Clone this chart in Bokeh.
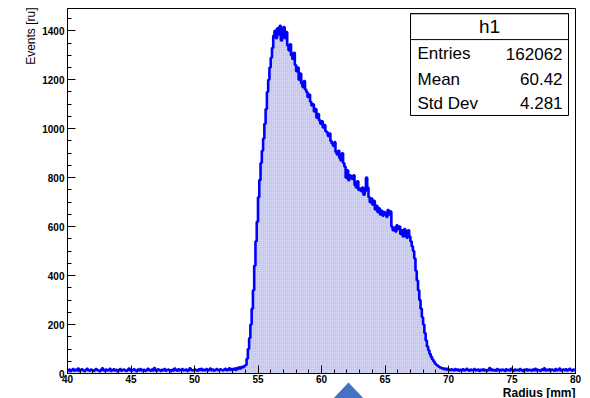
import numpy as np
from bokeh.plotting import figure
from bokeh.models import Range1d, Label, BoxAnnotation, PolyAnnotation, FixedTicker
from bokeh.embed import file_html
from bokeh.resources import INLINE

# ---------------------------------------------------------------- data
x_min, x_max = 40.0, 80.0
bin_width = 0.1

# counts per 0.1 mm bin, 40.0 .. 53.9
left_tail = [
    12, 16, 9, 14, 18, 11, 15, 13, 20, 10,
    14, 17, 12, 9, 15, 19, 13, 11, 16, 14,
    10, 13, 18, 15, 12, 9, 14, 21, 13, 11,
    16, 12, 14, 19, 10, 13, 17, 12, 15, 9,
    13, 18, 11, 14, 16, 12, 10, 15, 20, 13,
    11, 14, 17, 12, 9, 16, 13, 18, 12, 14,
    15, 10, 13, 19, 14, 11, 16, 12, 22, 13,
    12, 17, 14, 10, 15, 13, 18, 11, 14, 16,
    13, 9, 15, 12, 20, 14, 11, 17, 13, 15,
    18, 12, 14, 16, 10, 13, 21, 15, 12, 14,
    16, 13, 11, 17, 14, 19, 12, 15, 13, 18,
    12, 15, 20, 13, 16, 11, 14, 18, 15, 13,
    17, 14, 12, 16, 19, 13, 15, 21, 14, 18,
    16, 20, 15, 22, 19, 25, 21, 27, 26, 31,
]

# counts per 0.1 mm bin, 54.0 .. 69.4
core = [
    35, 60, 100, 145, 200, 265, 340, 440, 540, 620,
    720, 790, 860, 910, 960, 1020, 1080, 1150, 1200, 1250,
    1290, 1330, 1380, 1400, 1370, 1410, 1385, 1420, 1360, 1405,
    1415, 1370, 1395, 1340, 1320, 1345, 1300, 1285, 1310, 1260,
    1235, 1250, 1200, 1225, 1185, 1170, 1195, 1160, 1150, 1130,
    1140, 1110, 1095, 1100, 1070, 1080, 1045, 1060, 1035, 1020,
    1030, 1005, 1015, 990, 985, 970, 980, 950, 940, 930,
    945, 905, 895, 910, 880, 870, 900, 860, 845, 800,
    830, 790, 810, 800, 795, 810, 770, 760, 785, 750,
    755, 745, 760, 730, 745, 800, 760, 720, 700, 715,
    690, 705, 670, 685, 660, 675, 650, 665, 645, 660,
    655, 640, 668, 650, 662, 600, 585, 595, 580, 605,
    590, 600, 570, 585, 560, 590, 575, 555, 585, 560,
    540, 520, 500, 470, 420, 380, 340, 300, 265, 230,
    200, 165, 135, 110, 95, 80, 68, 58, 50, 42,
    36, 32, 28, 25, 22,
]

# counts per 0.1 mm bin, 69.5 .. 79.9
right_tail = [
    21, 18, 20, 16, 19,
    16, 13, 17, 15, 12, 18, 14, 16, 11, 15,
    13, 17, 12, 15, 19, 14, 11, 16, 13, 15,
    18, 12, 14, 16, 10, 15, 13, 17, 12, 14,
    11, 15, 22, 13, 16, 12, 14, 11, 18, 13,
    15, 12, 16, 14, 10, 17, 13, 15, 12, 19,
    14, 11, 16, 13, 15, 12, 18, 14, 10, 15,
    13, 17, 12, 15, 14, 11, 16, 13, 19, 12,
    15, 13, 10, 16, 14, 21, 12, 15, 13, 17,
    12, 16, 14, 11, 18, 13, 15, 20, 12, 14,
    16, 13, 17, 12, 15, 19, 14, 11, 16, 13,
]

x_ticks = [40, 45, 50, 55, 60, 65, 70, 75, 80]
y_ticks = [0, 200, 400, 600, 800, 1000, 1200, 1400]

stats_title = "h1"
stats_names = ["Entries", "Mean", "Std Dev"]
stats_values = ["162062", "60.42", "4.281"]

x_title = "Radius [mm]"
y_title = "Events [ru]"

# ---------------------------------------------------------------- geometry
counts = np.array(left_tail + core + right_tail, dtype=float)
edges = x_min + bin_width * np.arange(len(counts) + 1)
y_top = 1.05 * counts.max()

FONT = "Liberation Sans"
LINE_BLUE = "#0000ff"

# The drawing area covers the whole page; the axes are pinned at x = 40 and
# y = 0 so that their labels and the titles sit inside it.
W, H = 590, 398
pad_l, pad_r = 67, 15      # page pixels left of x = 40 and right of x = 80
pad_t, pad_b = 8, 25       # page pixels above y = y_top and below y = 0
mm_per_px = (x_max - x_min) / (W - pad_l - pad_r)
ev_per_px = y_top / (H - pad_t - pad_b)

p = figure(
    width=W, height=H,
    x_range=Range1d(x_min - pad_l * mm_per_px, x_max + pad_r * mm_per_px),
    y_range=Range1d(-pad_b * ev_per_px, y_top + pad_t * ev_per_px),
    output_backend="svg", toolbar_location=None,
    min_border_left=0, min_border_right=0,
    min_border_top=0, min_border_bottom=0,
)
p.background_fill_color = "white"
p.border_fill_color = "white"
p.outline_line_color = None
p.xgrid.visible = False
p.ygrid.visible = False

# filled area under the histogram (fine half-tone look)
stair_x = np.repeat(edges, 2)
stair_y = np.concatenate([[0.0], np.repeat(counts, 2), [0.0]])
p.patch(stair_x, stair_y, fill_color="#d6d6f6", line_color=None,
        hatch_pattern="+", hatch_scale=2, hatch_weight=0.5,
        hatch_color="#8080e6", hatch_alpha=0.55)

# histogram outline
p.step(x=edges, y=np.append(counts, counts[-1]), mode="after",
       line_color=LINE_BLUE, line_width=2.6)

# frame box
p.add_layout(BoxAnnotation(left=x_min, right=x_max, bottom=0, top=y_top,
                           fill_alpha=0.0, line_color="black", line_width=1,
                           line_alpha=1.0))

# axes: ticks pointing into the frame
for ax in (p.xaxis[0], p.yaxis[0]):
    ax.major_tick_in = 8
    ax.major_tick_out = 0
    ax.minor_tick_in = 4
    ax.minor_tick_out = 0
    ax.axis_line_color = "black"
    ax.major_tick_line_color = "black"
    ax.minor_tick_line_color = "black"
    ax.major_label_text_font = FONT
    ax.major_label_text_font_style = "bold"
    ax.major_label_text_font_size = "10px"
    ax.major_label_text_color = "black"

p.xaxis.fixed_location = 0
p.yaxis.fixed_location = x_min
p.xaxis.bounds = (x_min, x_max)
p.yaxis.bounds = (0, y_top)
p.xaxis.ticker = FixedTicker(ticks=x_ticks, minor_ticks=list(range(40, 81)))
p.yaxis.ticker = FixedTicker(ticks=y_ticks, minor_ticks=list(range(0, 1500, 50)))
p.xaxis.major_label_standoff = 1
p.yaxis.major_label_standoff = 3

# axis titles
p.add_layout(Label(x=30, y=7, x_units="canvas", y_units="canvas",
                   text=y_title, angle=np.pi / 2, text_align="right",
                   text_baseline="middle", text_font=FONT,
                   text_font_size="12px", text_color="black"))
p.add_layout(Label(x=575, y=392, x_units="canvas", y_units="canvas",
                   text=x_title, text_align="right", text_baseline="middle",
                   text_font=FONT, text_font_style="bold",
                   text_font_size="12px", text_color="black"))

# statistics box
box_l, box_r = 67.01, 79.45
box_b, box_t, box_div = 1054, 1470, 1364
p.add_layout(BoxAnnotation(left=box_l, right=box_r, bottom=box_b, top=box_t,
                           fill_color="white", fill_alpha=1.0,
                           line_color="black", line_width=1, line_alpha=1.0))
p.add_layout(BoxAnnotation(left=box_l, right=box_r, bottom=box_div, top=box_t,
                           fill_alpha=0.0, line_color="black", line_width=1,
                           line_alpha=1.0))
p.add_layout(Label(x=(box_l + box_r) / 2, y=1417, text=stats_title,
                   text_align="center", text_baseline="middle",
                   text_font=FONT, text_font_size="19px", text_color="black"))
row_y = [1307, 1201, 1103]
for name, val, yy in zip(stats_names, stats_values, row_y):
    p.add_layout(Label(x=67.56, y=yy, text=name, text_align="left",
                       text_baseline="middle", text_font=FONT,
                       text_font_size="17px", text_color="black"))
    p.add_layout(Label(x=78.98, y=yy, text=val, text_align="right",
                       text_baseline="middle", text_font=FONT,
                       text_font_size="17px", text_color="black"))

# pointer arrow below the axis
p.add_layout(PolyAnnotation(xs=[331, 348, 365], ys=[400, 382, 400],
                            xs_units="canvas", ys_units="canvas",
                            fill_color="#4472c4", fill_alpha=1.0,
                            line_color=None))

open("out.html", "w").write(file_html(p, INLINE))
